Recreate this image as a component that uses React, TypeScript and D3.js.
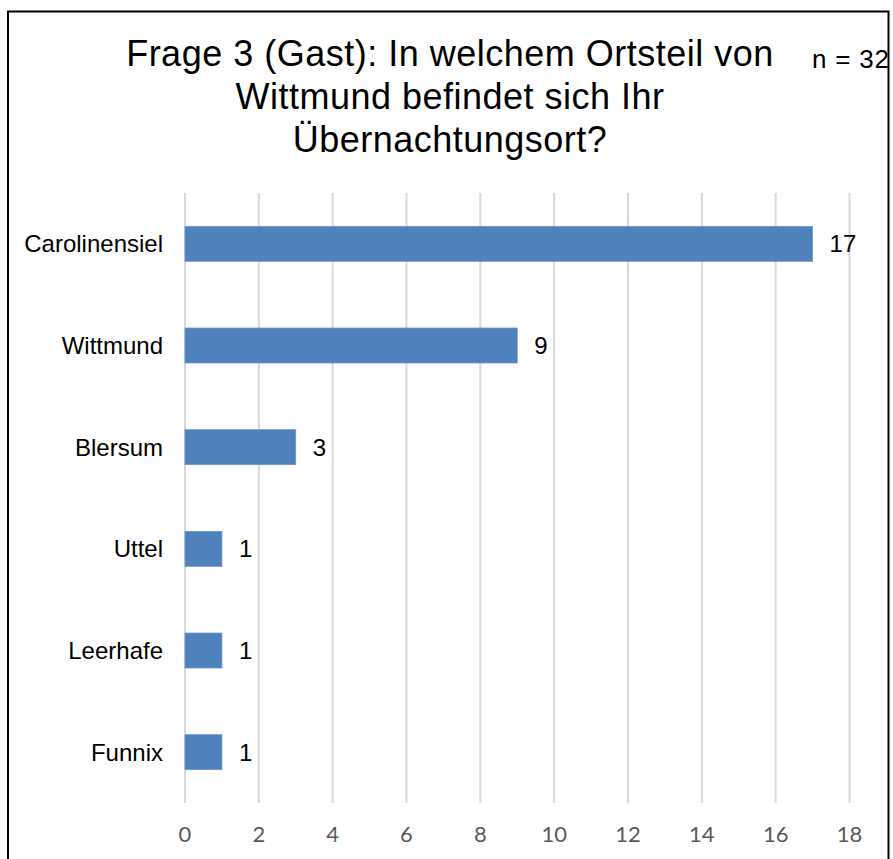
import React from "react";
import * as d3 from "d3";

const categories = ["Carolinensiel", "Wittmund", "Blersum", "Uttel", "Leerhafe", "Funnix"];
const values = [17, 9, 3, 1, 1, 1];
const ticks = [0, 2, 4, 6, 8, 10, 12, 14, 16, 18];
const titleLines = ["Frage 3 (Gast): In welchem Ortsteil von", "Wittmund befindet sich Ihr", "Übernachtungsort?"];
const nLabel = "n = 32";

export default function App() {
  const W = 893, H = 859;
  const x = d3.scaleLinear().domain([0, 18]).range([185, 849.5]);
  const y = d3.scaleBand<string>().domain(categories).range([193, 803]).paddingInner(0.656).paddingOuter(0.328);
  const font = "'Liberation Sans', Arial, sans-serif";
  return (
    <svg width={W} height={H} style={{ position: "absolute", left: 0, top: 0, background: "#fff" }}>
      <rect x={0} y={0} width={W} height={H} fill="#fff" />
      {titleLines.map((t, i) => (
        <text key={i} x={450} y={66 + i * 43} textAnchor="middle" fontFamily={font} fontSize={36} letterSpacing={0.5} fill="#000">{t}</text>
      ))}
      <text x={812} y={68} fontFamily={font} fontSize={26} letterSpacing={0.8} fill="#000">{nLabel}</text>
      <path d={`M8,${H + 5} V11.5 H888.5 V${H + 5}`} fill="none" stroke="#000" strokeWidth={2} />
      {ticks.map((t) => (
        <line key={t} x1={x(t)} x2={x(t)} y1={193} y2={803} stroke="#d9d9d9" strokeWidth={2} />
      ))}
      {ticks.map((t) => (
        <text key={"l" + t} x={x(t)} y={842} textAnchor="middle" fontFamily="Lato, 'Open Sans', sans-serif" fontSize={22} fill="#595959">{t}</text>
      ))}
      {categories.map((c, i) => {
        const yy = y(c)!;
        const bw = y.bandwidth();
        return (
          <g key={c}>
            <rect x={x(0)} y={yy} width={x(values[i]) - x(0)} height={bw} fill="#4f81bd" stroke="#6f97c9" strokeWidth={0.8} />
            <text x={163} y={yy + bw / 2 + 8.5} textAnchor="end" fontFamily={font} fontSize={24} fill="#000">{c}</text>
            <text x={x(values[i]) + 17} y={yy + bw / 2 + 8.5} fontFamily={font} fontSize={24} fill="#000">{values[i]}</text>
          </g>
        );
      })}
    </svg>
  );
}
